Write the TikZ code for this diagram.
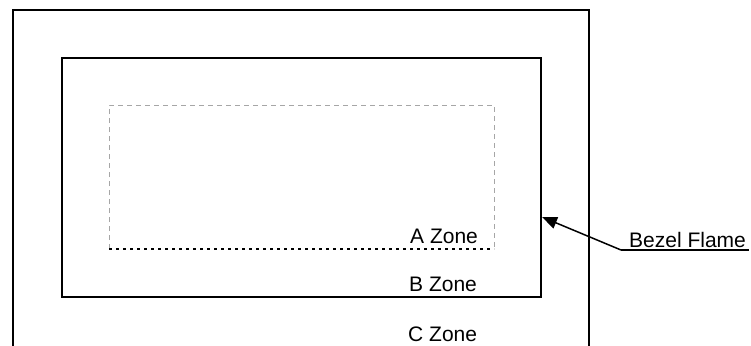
\documentclass[tikz,border=0pt]{standalone}
\usepackage{fontspec}
\setmainfont{Liberation Sans}
\usetikzlibrary{arrows.meta}
\tikzset{
  frame/.style={line width=2pt,black},
  zonelabel/.style={anchor=base west,inner sep=0pt,font=\fontsize{21}{25}\selectfont},
  lightdash/.style={line width=1pt,black!35,dash pattern=on 5pt off 4pt},
  darkdot/.style={line width=2pt,black,dash pattern=on 3pt off 4pt},
}
\begin{document}
\begin{tikzpicture}[x=1pt,y=-1pt]
\useasboundingbox[fill=white] (0,0) rectangle (751,345);
% outer frame (open at the bottom)
\draw[frame] (13,346) -- (13,10) -- (589,10) -- (589,346);
% inner frame (bezel)
\draw[frame] (62,58) rectangle (541,297);
% active area
\draw[lightdash] (109,249) -- (109,105) -- (494,105) -- (494,249);
\draw[darkdot] (109,249) -- (494,249);
% labels
\node[zonelabel] (a) at (410,243) {A Zone};
\node[zonelabel] (b) at (409,291) {B Zone};
\node[zonelabel] (c) at (408,341) {C Zone};
\node[zonelabel] (bezel) at (629,247) {Bezel Flame};
\coordinate (ul) at (621,250);
\coordinate (ulend) at (749,250);
\coordinate (tip) at (542,217);
\draw[line width=1.5pt] (ul) -- (ulend);
\draw[line width=1.5pt,-{Triangle[length=15pt,width=12pt]}] (ul) -- (tip);
\end{tikzpicture}
\end{document}
